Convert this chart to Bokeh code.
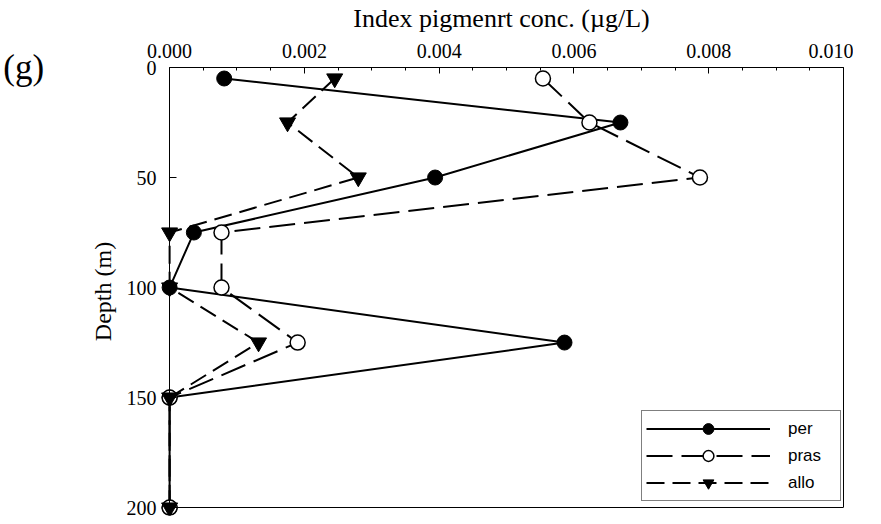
from bokeh.plotting import figure
from bokeh.models import Range1d, FixedTicker, NumeralTickFormatter, Legend, LegendItem, Label, LinearAxis
from bokeh.embed import file_html
from bokeh.resources import INLINE

# Data (depth in m, index pigment concentration in ug/L)
depth = [5, 25, 50, 75, 100, 125, 150, 200]
per = [0.00081, 0.00669, 0.00394, 0.00036, 0.0, 0.00586, 0.0, 0.0]
pras = [0.00554, 0.00623, 0.00787, 0.00077, 0.00077, 0.0019, 0.0, 0.0]
allo = [0.00245, 0.00175, 0.0028, 0.0, 0.0, 0.00132, 0.0, 0.0]
x_ticks = [0.000, 0.002, 0.004, 0.006, 0.008, 0.010]
x_minor = [i * 0.0005 for i in range(21)]
y_ticks = [0, 50, 100, 150, 200]
x_lim = (0.0, 0.010)
y_lim = (0, 200)

SERIF = "Liberation Serif"

# ranges are padded a little so markers sitting on the axes are not cut
p = figure(frame_width=684, frame_height=448,
           x_range=Range1d(-0.00015, x_lim[1]), y_range=Range1d(203.6, y_lim[0]),
           x_axis_location="above",
           min_border_left=159, min_border_top=64, min_border_right=10, min_border_bottom=3,
           output_backend="svg", toolbar_location=None)

p.xgrid.visible = False
p.ygrid.visible = False
p.outline_line_color = None

# x axis (top)
xa = p.xaxis[0]
xa.bounds = x_lim
xa.ticker = FixedTicker(ticks=x_ticks, minor_ticks=x_minor)
xa.formatter = NumeralTickFormatter(format="0.000")
xa.major_tick_in = 6
xa.major_tick_out = 0
xa.minor_tick_in = 3
xa.minor_tick_out = 0
xa.axis_line_color = "black"
xa.major_tick_line_color = "black"
xa.minor_tick_line_color = "black"
xa.major_label_text_font = SERIF
xa.major_label_text_font_size = "20px"
xa.major_label_text_color = "black"
xa.major_label_standoff = 10
xa.axis_label = "Index pigmenrt conc. (\u00b5g/L)"
xa.axis_label_text_font = SERIF
xa.axis_label_text_font_size = "26px"
xa.axis_label_text_font_style = "normal"
xa.axis_label_text_color = "black"
xa.axis_label_standoff = 8

# y axis (left): labels only, at the frame edge
ya = p.yaxis[0]
ya.bounds = y_lim
ya.ticker = FixedTicker(ticks=y_ticks, minor_ticks=[])
ya.axis_line_color = None
ya.major_tick_line_color = None
ya.minor_tick_line_color = None
ya.major_tick_in = 0
ya.major_tick_out = 0
ya.minor_tick_in = 0
ya.minor_tick_out = 0
ya.major_label_text_font = SERIF
ya.major_label_text_font_size = "20px"
ya.major_label_text_color = "black"
ya.major_label_standoff = 3
ya.axis_label = "Depth (m)"
ya.axis_label_text_font = SERIF
ya.axis_label_text_font_size = "24px"
ya.axis_label_text_font_style = "normal"
ya.axis_label_text_color = "black"
ya.axis_label_standoff = 8

# y axis line and inward ticks at x = 0 (no labels drawn)
ya_line = LinearAxis(fixed_location=x_lim[0], bounds=y_lim,
                     ticker=FixedTicker(ticks=y_ticks, minor_ticks=[]),
                     major_label_text_color=None, major_label_text_font_size="1px",
                     major_label_standoff=0,
                     major_tick_in=7, major_tick_out=0, minor_tick_in=0, minor_tick_out=0,
                     axis_line_color="black", major_tick_line_color="black")
p.add_layout(ya_line, "left")

# frame lines on the right and bottom
right_ax = LinearAxis(bounds=y_lim, ticker=FixedTicker(ticks=[], minor_ticks=[]),
                      major_label_text_color=None, major_label_standoff=0,
                      major_tick_in=0, major_tick_out=0,
                      minor_tick_in=0, minor_tick_out=0, axis_line_color="black")
p.add_layout(right_ax, "right")
bottom_ax = LinearAxis(bounds=x_lim, fixed_location=y_lim[1],
                       ticker=FixedTicker(ticks=[], minor_ticks=[]),
                       major_label_text_color=None, major_label_standoff=0,
                       major_tick_in=0, major_tick_out=0,
                       minor_tick_in=0, minor_tick_out=0, axis_line_color="black")
p.add_layout(bottom_ax, "below")

# series
l_per = p.line(per, depth, line_color="black", line_width=2)
l_pras = p.line(pras, depth, line_color="black", line_width=2, line_dash="26 9")
l_allo = p.line(allo, depth, line_color="black", line_width=2, line_dash="18 8")
m_per = p.scatter(per, depth, marker="circle", size=15, fill_color="black", line_color="black")
m_pras = p.scatter(pras, depth, marker="circle", size=15, fill_color="white", line_color="black", line_width=1.5)
m_allo = p.scatter(allo, depth, marker="inverted_triangle", size=16, fill_color="black", line_color="black")

legend = Legend(items=[
    LegendItem(label="per", renderers=[l_per, m_per]),
    LegendItem(label="pras", renderers=[l_pras, m_pras]),
    LegendItem(label="allo", renderers=[l_allo, m_allo]),
], location=(482, 14))
legend.glyph_width = 124
legend.glyph_height = 27
legend.label_height = 20
legend.label_width = 48
legend.spacing = 0
legend.padding = 4
legend.label_standoff = 18
legend.margin = 0
legend.border_line_color = "black"
legend.border_line_width = 1
legend.background_fill_color = "white"
legend.background_fill_alpha = 1.0
legend.label_text_font = "Liberation Sans"
legend.label_text_font_size = "17px"
legend.label_text_color = "black"
p.add_layout(legend)

# panel letter
p.add_layout(Label(x=-0.002468, y=0.0, text="(g)", text_font=SERIF, text_font_size="35px",
                   text_color="black", text_baseline="alphabetic", text_align="left"), "left")

open("out.html", "w").write(file_html(p, INLINE))
